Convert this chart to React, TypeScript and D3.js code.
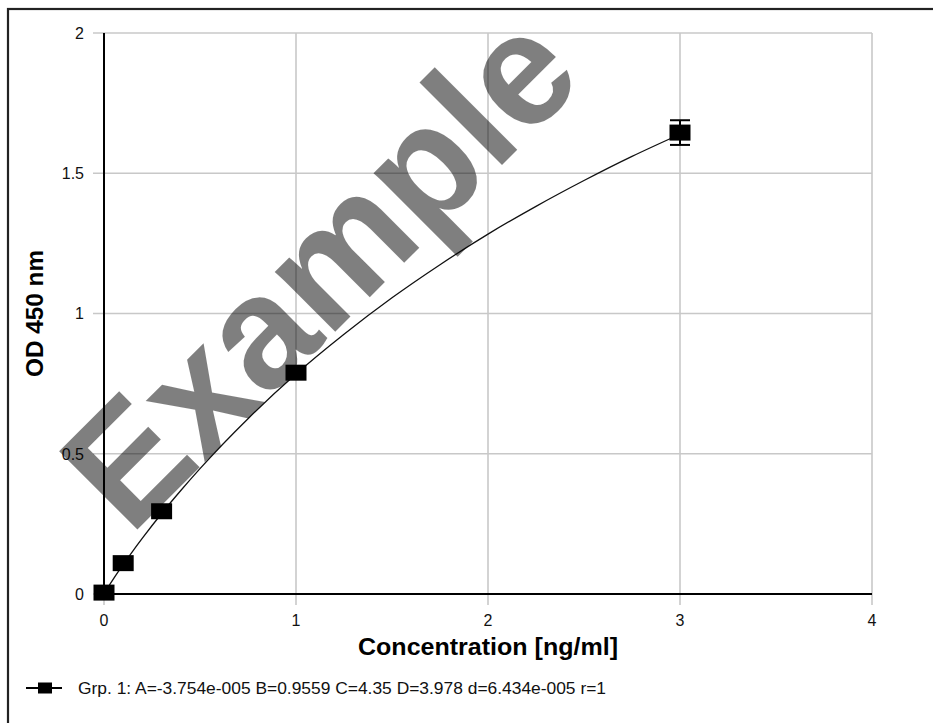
import React from "react";
import * as d3 from "d3";

// standard curve points (mean OD and error)
const concentrations = [0, 0.1, 0.3, 1, 3];
const odValues = [0.005, 0.11, 0.295, 0.789, 1.645];
const odErrors = [0, 0, 0, 0, 0.044];

// fitted curve
const fitX = [0, 0.02, 0.05, 0.1, 0.15, 0.2, 0.3, 0.4, 0.5, 0.75, 1, 1.25, 1.5, 1.75, 2, 2.25, 2.5, 2.75, 3];
const fitY = [0, 0.023, 0.055, 0.105, 0.153, 0.199, 0.287, 0.369, 0.447, 0.625, 0.784, 0.926, 1.056, 1.174, 1.283, 1.382, 1.474, 1.56, 1.639];

const xTicks = [0, 1, 2, 3, 4];
const yTicks = [0, 0.5, 1, 1.5, 2];
const yTickLabels = ["0", "0.5", "1", "1.5", "2"];

const xTitle = "Concentration [ng/ml]";
const yTitle = "OD 450 nm";
const legendText = "Grp. 1: A=-3.754e-005 B=0.9559 C=4.35 D=3.978 d=6.434e-005 r=1";
const watermark = "Example";

const width = 933;
const height = 723;
const margin = { top: 33, left: 104, right: 61, bottom: 129 };

const App = () => {
  const x = d3.scaleLinear().domain([0, 4]).range([margin.left, width - margin.right]);
  const y = d3.scaleLinear().domain([0, 2]).range([height - margin.bottom, margin.top]);

  const points = concentrations.map((c, i) => ({ c, od: odValues[i], err: odErrors[i] }));
  const curve = d3.line<number>()
    .x((_, i) => x(fitX[i]))
    .y(d => y(d))
    .curve(d3.curveMonotoneX);

  const font = "Arial, 'Liberation Sans', sans-serif";
  const mw = 21, mh = 16;

  return (
    <svg
      width={width}
      height={height}
      style={{ position: "absolute", left: 0, top: 0, background: "#fff" }}
      fontFamily={font}
    >
      <rect x={8} y={9} width={width + 20} height={height + 20} fill="#fff" stroke="#222" strokeWidth={2.2} />

      {/* grid */}
      {yTicks.map(t => (
        <line key={"gy" + t} x1={margin.left - 11} x2={x(4)} y1={y(t)} y2={y(t)} stroke="#c8c8c8" strokeWidth={1.6} />
      ))}
      {xTicks.map(t => (
        <line key={"gx" + t} x1={x(t)} x2={x(t)} y1={y(2)} y2={y(0) + 11} stroke="#c8c8c8" strokeWidth={1.6} />
      ))}

      {/* axes */}
      <line x1={x(0)} x2={x(0)} y1={y(2)} y2={y(0)} stroke="#000" strokeWidth={2} />
      <line x1={x(0)} x2={x(4)} y1={y(0)} y2={y(0)} stroke="#000" strokeWidth={2} />

      {yTicks.map((t, i) => (
        <text key={"ly" + t} x={84} y={y(t)} dy="0.36em" textAnchor="end" fontSize={16} fill="#111">
          {yTickLabels[i]}
        </text>
      ))}
      {xTicks.map(t => (
        <text key={"lx" + t} x={x(t)} y={626} textAnchor="middle" fontSize={16} fill="#111">
          {t}
        </text>
      ))}

      <text x={(x(0) + x(4)) / 2} y={655} textAnchor="middle" fontSize={23} fontWeight="bold" textLength={260} lengthAdjust="spacingAndGlyphs">
        {xTitle}
      </text>
      <text
        transform={`translate(43,${(y(0) + y(2)) / 2}) rotate(-90)`}
        textAnchor="middle"
        fontSize={23}
        fontWeight="bold"
        textLength={127}
        lengthAdjust="spacingAndGlyphs"
      >
        {yTitle}
      </text>

      {/* fit curve */}
      <path d={curve(fitY) ?? ""} fill="none" stroke="#111" strokeWidth={1.3} />

      {/* error bars */}
      {points.filter(p => p.err > 0).map(p => (
        <g key={"e" + p.c} stroke="#000" strokeWidth={2}>
          <line x1={x(p.c)} x2={x(p.c)} y1={y(p.od + p.err)} y2={y(p.od - p.err)} />
          <line x1={x(p.c) - 10} x2={x(p.c) + 10} y1={y(p.od + p.err)} y2={y(p.od + p.err)} />
          <line x1={x(p.c) - 10} x2={x(p.c) + 10} y1={y(p.od - p.err)} y2={y(p.od - p.err)} />
        </g>
      ))}

      {/* markers */}
      {points.map(p => (
        <rect key={"m" + p.c} x={x(p.c) - mw / 2} y={y(p.od) - mh / 2} width={mw} height={mh} fill="#000" />
      ))}

      {/* legend */}
      <line x1={26} x2={62} y1={688} y2={688} stroke="#000" strokeWidth={2} />
      <rect x={38} y={682.5} width={14} height={11} fill="#000" />
      <text x={78} y={694} fontSize={16} textLength={528} lengthAdjust="spacingAndGlyphs" fill="#111">
        {legendText}
      </text>

      {/* watermark */}
      <text
        transform="translate(130,537) rotate(-45)"
        textAnchor="start"
        fontSize={161}
        fontWeight="bold"
        textLength={646}
        lengthAdjust="spacingAndGlyphs"
        fill="#000"
        fillOpacity={0.5}
      >
        {watermark}
      </text>
    </svg>
  );
};

export default App;
